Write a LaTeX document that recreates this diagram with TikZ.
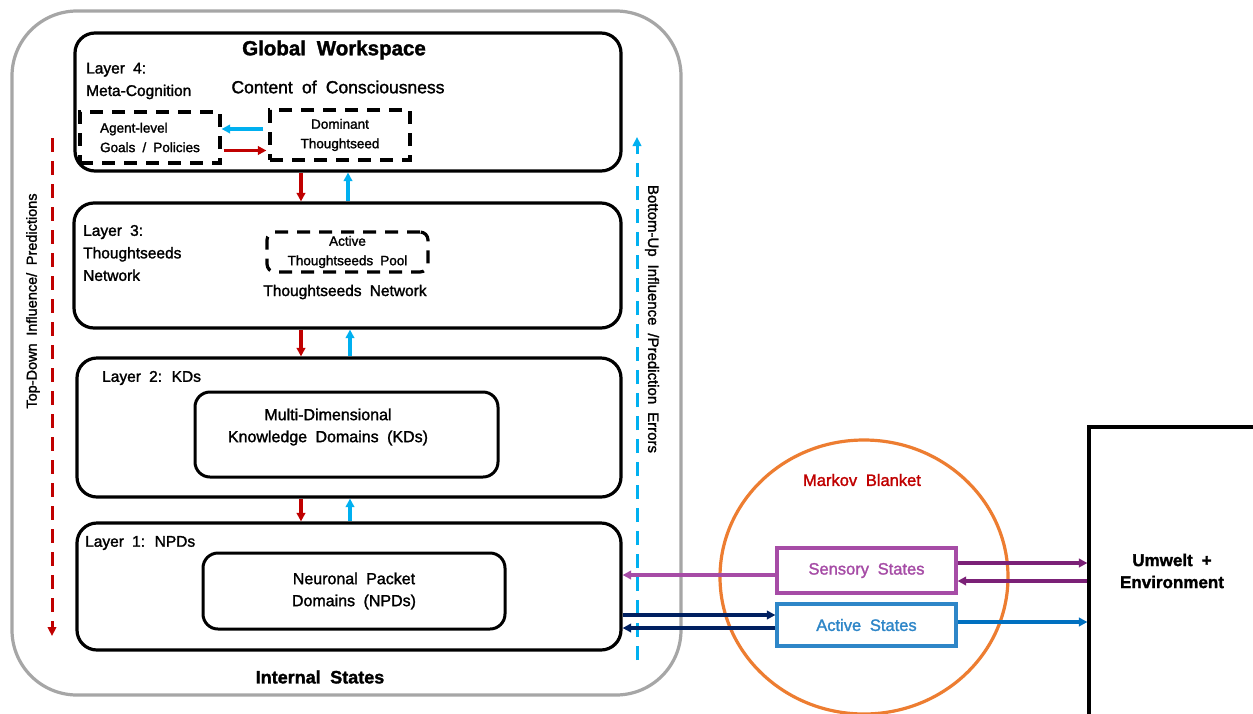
\documentclass[tikz,border=0pt]{standalone}
\usepackage{fontspec}
\setmainfont{Liberation Sans}[WordSpace=1.9,FakeBold=1.6]
\usetikzlibrary{arrows.meta,calc,shapes.geometric}
\definecolor{tdred}{HTML}{C00000}
\definecolor{bublue}{HTML}{00B0F0}
\definecolor{sspurple}{HTML}{A64CA6}
\definecolor{dpurple}{HTML}{7B2177}
\definecolor{navyc}{HTML}{002060}
\definecolor{asblue}{HTML}{2E86C8}
\definecolor{arblue}{HTML}{0070C0}
\definecolor{mborange}{HTML}{ED7D31}
\definecolor{outgray}{HTML}{A6A6A6}
\newcommand{\fs}[2]{\fontsize{#1}{#2}\selectfont}
\begin{document}
\begin{tikzpicture}[x=1pt,y=-1pt,
  layerbox/.style={draw=black,line width=3.2pt,rounded corners=20pt,inner sep=0pt},
  innerbox/.style={draw=black,line width=3pt,rounded corners=15pt,inner sep=0pt,align=center,font=\fs{16}{22}},
  dashbox/.style={draw=black,line width=3.2pt,dash pattern=on 13pt off 9pt,inner sep=0pt,font=\fs{13.5}{19.5}},
  lbl/.style={inner sep=0pt,font=\fs{15.5}{22.5},align=left},
  tip/.style={-{Triangle[length=8.5pt,width=8.5pt]}},
  redarr/.style={tip,draw=tdred,line width=3.2pt},
  bluarr/.style={tip,draw=bublue,line width=3.2pt},
  purarr/.style={tip,draw=sspurple,line width=3.2pt},
  dpurarr/.style={tip,draw=dpurple,line width=3.2pt},
  navarr/.style={tip,draw=navyc,line width=3.2pt},
  asarr/.style={tip,draw=arblue,line width=3.2pt},
]
\useasboundingbox (0,0) rectangle (1253,713);
\fill[white] (0,0) rectangle (1253,713);

% outer internal states box
\node[draw=outgray,line width=3.2pt,rounded corners=65pt,minimum width=669pt,minimum height=684pt,inner sep=0pt] (OUT) at (346.5,353) {};

% layers
\node[layerbox,minimum width=546pt,minimum height=138pt] (L4) at (348,102) {};
\node[layerbox,minimum width=547pt,minimum height=125pt] (L3) at (347.5,265.5) {};
\node[layerbox,minimum width=544pt,minimum height=139pt] (L2) at (349,427.5) {};
\node[layerbox,minimum width=544pt,minimum height=127pt] (L1) at (349,586.5) {};

% layer 4 content
\node[inner sep=0pt,font=\fs{20.5}{24}\bfseries] (GW) at (334,50) {Global Workspace};
\node[lbl,anchor=west] (L4t) at (86,81) {Layer 4:\\Meta-Cognition};
\node[inner sep=0pt,font=\fs{17.5}{20}] (CoC) at (338,87) {Content of Consciousness};
\node[dashbox,minimum width=140pt,minimum height=51pt,align=left] (AG) at (150,137.5) {Agent-level\\Goals / Policies};
\node[dashbox,minimum width=140pt,minimum height=50pt,align=center] (DT) at (340,135) {Dominant\\Thoughtseed};
\coordinate (a1) at ([yshift=6pt,xshift=-5pt]DT.west);
\coordinate (a2) at ([yshift=-13pt,xshift=2pt]AG.east);
\draw[bluarr] (a1) -- (a1 -| AG.east);
\draw[redarr] (a2) -- ([xshift=-2pt]a2 -| DT.west);

% layer 3 content
\node[lbl,anchor=west] (L3t) at (83,253) {Layer 3:\\Thoughtseeds\\Network};
\node[dashbox,rounded corners=8pt,minimum width=161pt,minimum height=40pt,align=center] (POOL) at (347.5,252) {Active\\Thoughtseeds Pool};
\node[inner sep=0pt,font=\fs{15.5}{20}] (TN) at (345,292) {Thoughtseeds Network};

% layer 2 content
\node[lbl,anchor=west] (L2t) at (102,378) {Layer 2: KDs};
\node[innerbox,minimum width=303pt,minimum height=85pt] (KD) at (346.5,434.5) {};
\node[inner sep=0pt,align=center,font=\fs{16}{22}] (KDt) at (328,427) {Multi-Dimensional\\Knowledge Domains (KDs)};

% layer 1 content
\node[lbl,anchor=west] (L1t) at (85,543) {Layer 1: NPDs};
\node[innerbox,minimum width=302pt,minimum height=76pt] (NPD) at (354,591) {Neuronal Packet\\Domains (NPDs)};

\node[inner sep=0pt,font=\fs{18}{22}\bfseries] (IS) at (320,677) {Internal States};

% inter-layer arrows
\coordinate (cr) at (301,0);
\coordinate (cb) at (348,0);
\coordinate (cb2) at (350,0);
\draw[redarr] (L4.south -| cr) -- (L3.north -| cr);
\draw[bluarr] (L3.north -| cb) -- (L4.south -| cb);
\draw[redarr] (L3.south -| cr) -- (L2.north -| cr);
\draw[bluarr] (L2.north -| cb2) -- (L3.south -| cb2);
\draw[redarr] (L2.south -| cr) -- (L1.north -| cr);
\draw[bluarr] (L1.north -| cb2) -- (L2.south -| cb2);

% top-down / bottom-up
\coordinate (tdS) at (52,138);
\coordinate (tdE) at (52,636);
\draw[draw=tdred,line width=3pt,dash pattern=on 14pt off 9pt,-{Triangle[length=9pt,width=8.5pt]}] (tdS) -- (tdE);
\node[inner sep=0pt,rotate=90,font=\fs{14.5}{18}] (TDt) at (33,301) {Top-Down Influence/ Predictions};
\coordinate (buS) at (637,660);
\coordinate (buE) at (637,137);
\draw[draw=bublue,line width=3pt,dash pattern=on 14pt off 9pt,-{Triangle[length=9pt,width=8.5pt]}] (buS) -- (buE);
\node[inner sep=0pt,rotate=-90,font=\fs{15}{18}] (BUt) at (652,319) {Bottom-Up Influence /Prediction Errors};

% Markov blanket
\node[draw=mborange,line width=3.2pt,ellipse,minimum width=288pt,minimum height=274pt,inner sep=0pt] (MB) at (864,577) {};
\node[inner sep=0pt,text=tdred,font=\fs{16.5}{20}] (MBt) at (862,480) {Markov Blanket};
\node[draw=sspurple,line width=3.2pt,minimum width=179pt,minimum height=45pt,inner sep=0pt,text=sspurple,font=\fs{16.5}{20}] (SS) at (866.5,570.5) {Sensory States};
\node[draw=asblue,line width=3.2pt,minimum width=179pt,minimum height=42pt,inner sep=0pt,text=asblue,font=\fs{16.5}{20}] (AS) at (866.5,625) {Active States};

% environment
\node[draw=black,line width=3.2pt,minimum width=174pt,minimum height=296pt,inner sep=0pt] (ENV) at (1176,575) {};
\node[inner sep=0pt,align=center,font=\fs{17}{22}\bfseries] (ENVt) at (1172,571) {Umwelt +\\Environment};

% boundary arrows
\coordinate (p1) at ([yshift=-4.5pt]SS.west);
\draw[purarr] (p1) -- (p1 -| L1.east);
\coordinate (p2) at ([yshift=10pt]AS.west);
\draw[navarr] (p2 -| L1.east) -- (p2);
\coordinate (p3) at ([yshift=-3pt]AS.west);
\draw[navarr] (p3) -- (p3 -| L1.east);
\coordinate (p4) at ([yshift=7.5pt]SS.east);
\draw[dpurarr] (p4) -- (p4 -| ENV.west);
\coordinate (p5) at ([yshift=-10.5pt]SS.east);
\draw[dpurarr] (p5 -| ENV.west) -- (p5);
\coordinate (p6) at ([yshift=3pt]AS.east);
\draw[asarr] (p6) -- (p6 -| ENV.west);
\end{tikzpicture}
\end{document}
